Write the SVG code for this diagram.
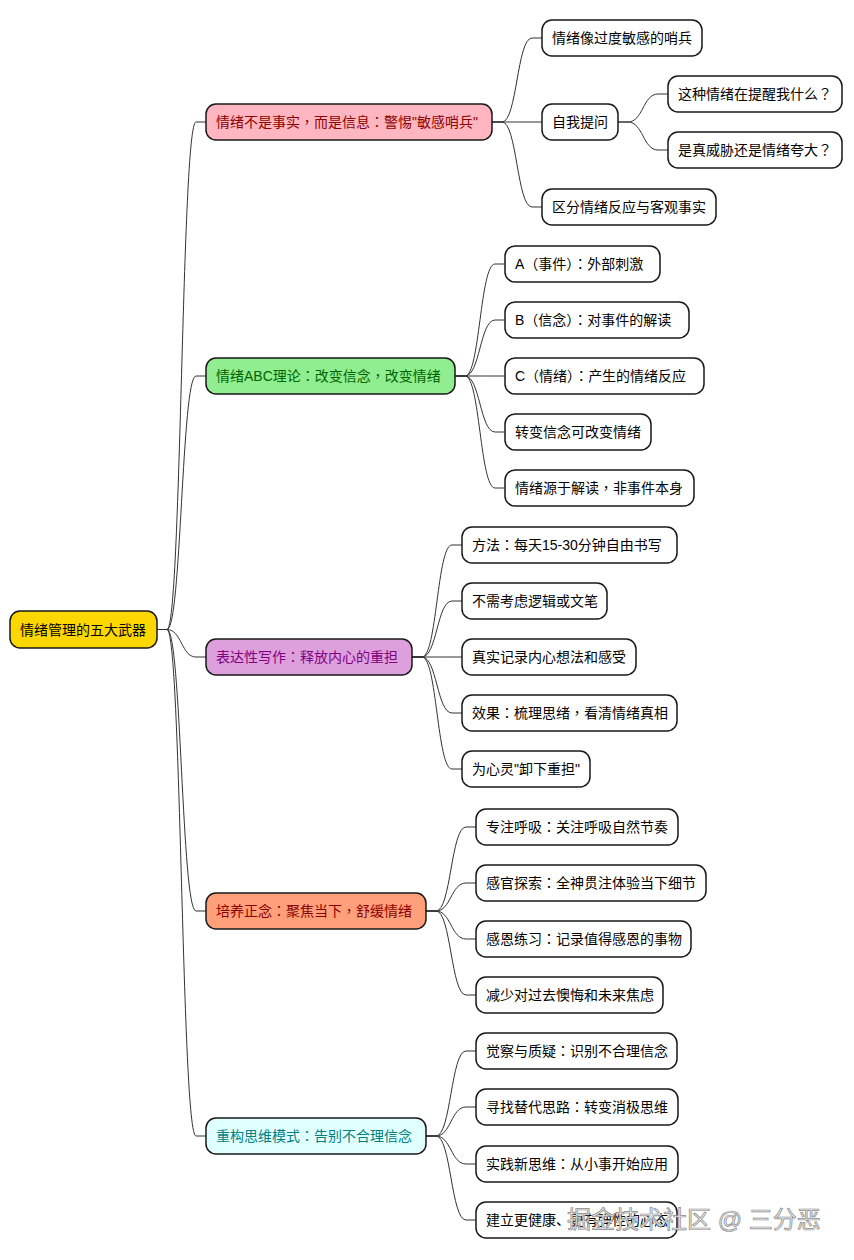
<svg xmlns="http://www.w3.org/2000/svg" width="854" height="1260" viewBox="0 0 854 1260">
<style>
.box{stroke:#181818;stroke-width:1.5;fill:#ffffff}
.t{font-family:"Liberation Sans","Noto Sans CJK SC",sans-serif;font-size:14px;fill:#000000}
.p{font-family:"Noto Sans CJK TC",sans-serif}
.c{fill:none;stroke:#333333;stroke-width:1}
.wm{font-family:"Liberation Sans","Noto Sans CJK SC",sans-serif;font-size:24px;fill:#e8e8e8;stroke:#8a8a8a;stroke-width:0.7}
</style>
<rect width="854" height="1260" fill="#ffffff"/>
<g id="connectors">
<path class="c" d="M157 629.5 H167 C181.5 629.5 181.5 122 196 122 H206"/>
<path class="c" d="M157 629.5 H167 C181.5 629.5 181.5 376 196 376 H206"/>
<path class="c" d="M157 629.5 H167 C181.5 629.5 181.5 657 196 657 H206"/>
<path class="c" d="M157 629.5 H167 C181.5 629.5 181.5 911 196 911 H206"/>
<path class="c" d="M157 629.5 H167 C181.5 629.5 181.5 1136 196 1136 H206"/>
<path class="c" d="M492 122 H502 C517 122 517 38 532 38 H542"/>
<path class="c" d="M492 122 H502 C517 122 517 122 532 122 H542"/>
<path class="c" d="M492 122 H502 C517 122 517 207 532 207 H542"/>
<path class="c" d="M618 122 H628 C643 122 643 94 658 94 H668"/>
<path class="c" d="M618 122 H628 C643 122 643 150 658 150 H668"/>
<path class="c" d="M455 376 H465 C480 376 480 264 495 264 H505"/>
<path class="c" d="M455 376 H465 C480 376 480 320 495 320 H505"/>
<path class="c" d="M455 376 H465 C480 376 480 376 495 376 H505"/>
<path class="c" d="M455 376 H465 C480 376 480 432 495 432 H505"/>
<path class="c" d="M455 376 H465 C480 376 480 488 495 488 H505"/>
<path class="c" d="M412 657 H422 C437 657 437 545 452 545 H462"/>
<path class="c" d="M412 657 H422 C437 657 437 601 452 601 H462"/>
<path class="c" d="M412 657 H422 C437 657 437 657 452 657 H462"/>
<path class="c" d="M412 657 H422 C437 657 437 713 452 713 H462"/>
<path class="c" d="M412 657 H422 C437 657 437 769 452 769 H462"/>
<path class="c" d="M426 911 H436 C451 911 451 827 466 827 H476"/>
<path class="c" d="M426 911 H436 C451 911 451 883 466 883 H476"/>
<path class="c" d="M426 911 H436 C451 911 451 939 466 939 H476"/>
<path class="c" d="M426 911 H436 C451 911 451 995 466 995 H476"/>
<path class="c" d="M426 1136 H436 C451 1136 451 1051 466 1051 H476"/>
<path class="c" d="M426 1136 H436 C451 1136 451 1107 466 1107 H476"/>
<path class="c" d="M426 1136 H436 C451 1136 451 1164 466 1164 H476"/>
<path class="c" d="M426 1136 H436 C451 1136 451 1220 466 1220 H476"/>
</g>
<g id="root"><rect class="box" x="10" y="611" width="147" height="37" rx="10" style="fill:#FFD700"/><text class="t" x="20" y="634.5">情绪管理的五大武器</text></g>

<g id="b1"><rect class="box" x="206" y="104" width="286" height="36" rx="10" style="fill:#FFB6C1"/><text class="t" x="216" y="127" style="fill:#8B0000">情绪不是事实<tspan class="p">，</tspan>而是信息<tspan class="p">：</tspan>警惕"敏感哨兵"</text></g>
<g id="b1-1"><rect class="box" x="542" y="20" width="160" height="36" rx="10"/><text class="t" x="552" y="43">情绪像过度敏感的哨兵</text></g>
<g id="b1-2"><rect class="box" x="542" y="104" width="76" height="36" rx="10"/><text class="t" x="552" y="127">自我提问</text></g>
<g id="b1-2-1"><rect class="box" x="668" y="76" width="174" height="36" rx="10"/><text class="t" x="678" y="99">这种情绪在提醒我什么<tspan class="p">？</tspan></text></g>
<g id="b1-2-2"><rect class="box" x="668" y="132" width="174" height="36" rx="10"/><text class="t" x="678" y="155">是真威胁还是情绪夸大<tspan class="p">？</tspan></text></g>
<g id="b1-3"><rect class="box" x="542" y="189" width="174" height="36" rx="10"/><text class="t" x="552" y="212">区分情绪反应与客观事实</text></g>

<g id="b2"><rect class="box" x="206" y="358" width="249" height="36" rx="10" style="fill:#90EE90"/><text class="t" x="216" y="381" style="fill:#006400">情绪ABC理论<tspan class="p">：</tspan>改变信念<tspan class="p">，</tspan>改变情绪</text></g>
<g id="b2-1"><rect class="box" x="505" y="246" width="155" height="36" rx="10"/><text class="t" x="515" y="269">A（事件）<tspan class="p">：</tspan>外部刺激</text></g>
<g id="b2-2"><rect class="box" x="505" y="302" width="184" height="36" rx="10"/><text class="t" x="515" y="325">B（信念）<tspan class="p">：</tspan>对事件的解读</text></g>
<g id="b2-3"><rect class="box" x="505" y="358" width="199" height="36" rx="10"/><text class="t" x="515" y="381">C（情绪）<tspan class="p">：</tspan>产生的情绪反应</text></g>
<g id="b2-4"><rect class="box" x="505" y="414" width="146" height="36" rx="10"/><text class="t" x="515" y="437">转变信念可改变情绪</text></g>
<g id="b2-5"><rect class="box" x="505" y="470" width="189" height="36" rx="10"/><text class="t" x="515" y="493">情绪源于解读<tspan class="p">，</tspan>非事件本身</text></g>

<g id="b3"><rect class="box" x="206" y="639" width="206" height="36" rx="10" style="fill:#DDA0DD"/><text class="t" x="216" y="662" style="fill:#800080">表达性写作<tspan class="p">：</tspan>释放内心的重担</text></g>
<g id="b3-1"><rect class="box" x="462" y="527" width="215" height="36" rx="10"/><text class="t" x="472" y="550">方法<tspan class="p">：</tspan>每天15-30分钟自由书写</text></g>
<g id="b3-2"><rect class="box" x="462" y="583" width="145" height="36" rx="10"/><text class="t" x="472" y="606">不需考虑逻辑或文笔</text></g>
<g id="b3-3"><rect class="box" x="462" y="639" width="174" height="36" rx="10"/><text class="t" x="472" y="662">真实记录内心想法和感受</text></g>
<g id="b3-4"><rect class="box" x="462" y="695" width="215" height="36" rx="10"/><text class="t" x="472" y="718">效果<tspan class="p">：</tspan>梳理思绪<tspan class="p">，</tspan>看清情绪真相</text></g>
<g id="b3-5"><rect class="box" x="462" y="751" width="128" height="36" rx="10"/><text class="t" x="472" y="774">为心灵"卸下重担"</text></g>

<g id="b4"><rect class="box" x="206" y="893" width="220" height="36" rx="10" style="fill:#FFA07A"/><text class="t" x="216" y="916" style="fill:#8B0000">培养正念<tspan class="p">：</tspan>聚焦当下<tspan class="p">，</tspan>舒缓情绪</text></g>
<g id="b4-1"><rect class="box" x="476" y="809" width="202" height="36" rx="10"/><text class="t" x="486" y="832">专注呼吸<tspan class="p">：</tspan>关注呼吸自然节奏</text></g>
<g id="b4-2"><rect class="box" x="476" y="865" width="230" height="36" rx="10"/><text class="t" x="486" y="888">感官探索<tspan class="p">：</tspan>全神贯注体验当下细节</text></g>
<g id="b4-3"><rect class="box" x="476" y="921" width="215" height="36" rx="10"/><text class="t" x="486" y="944">感恩练习<tspan class="p">：</tspan>记录值得感恩的事物</text></g>
<g id="b4-4"><rect class="box" x="476" y="977" width="187" height="36" rx="10"/><text class="t" x="486" y="1000">减少对过去懊悔和未来焦虑</text></g>

<g id="b5"><rect class="box" x="206" y="1118" width="220" height="36" rx="10" style="fill:#E0FFFF"/><text class="t" x="216" y="1141" style="fill:#008080">重构思维模式<tspan class="p">：</tspan>告别不合理信念</text></g>
<g id="b5-1"><rect class="box" x="476" y="1033" width="201" height="36" rx="10"/><text class="t" x="486" y="1056">觉察与质疑<tspan class="p">：</tspan>识别不合理信念</text></g>
<g id="b5-2"><rect class="box" x="476" y="1089" width="202" height="36" rx="10"/><text class="t" x="486" y="1112">寻找替代思路<tspan class="p">：</tspan>转变消极思维</text></g>
<g id="b5-3"><rect class="box" x="476" y="1146" width="202" height="36" rx="10"/><text class="t" x="486" y="1169">实践新思维<tspan class="p">：</tspan>从小事开始应用</text></g>
<g id="b5-4"><rect class="box" x="476" y="1202" width="201" height="36" rx="10"/><text class="t" x="486" y="1225">建立更健康、更有弹性的心态</text></g>

<text class="wm" x="567" y="1228">掘金技术社区 @ 三分恶</text>
</svg>
